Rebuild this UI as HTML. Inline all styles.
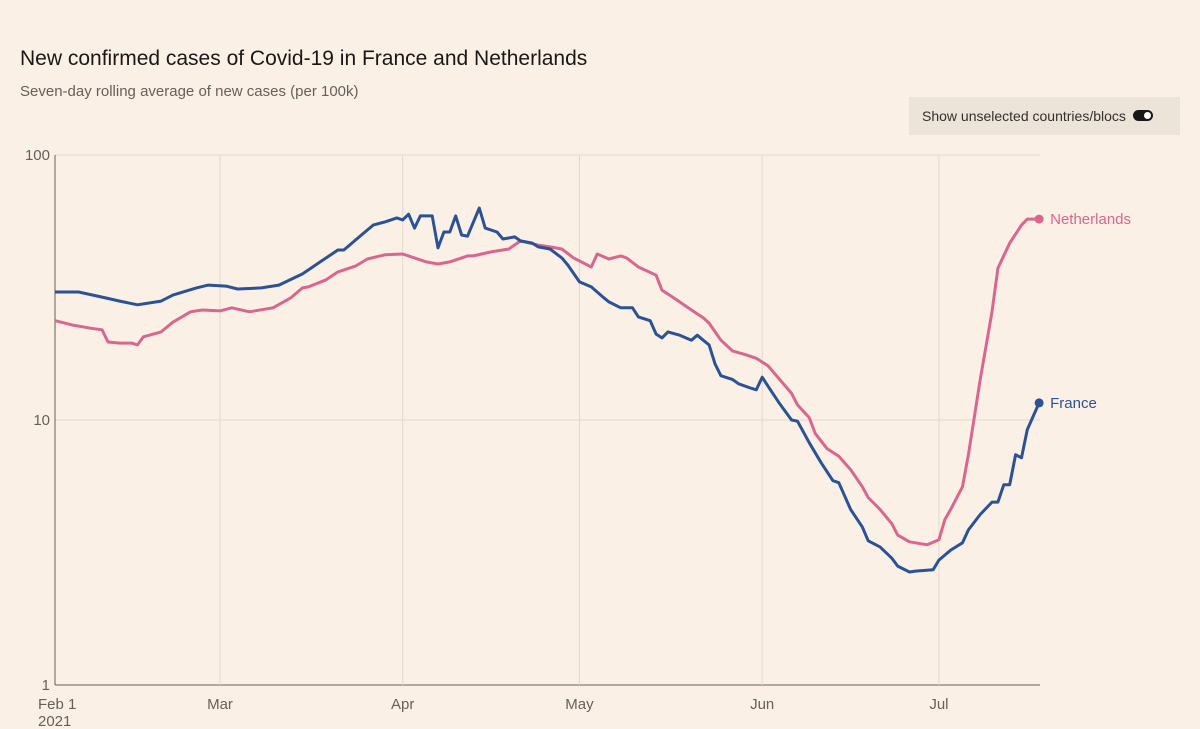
<!DOCTYPE html>
<html><head><meta charset="utf-8"><style>
body{margin:0;width:1200px;height:729px;background:#fbf0e6;font-family:"Liberation Sans",sans-serif;overflow:hidden;position:relative}
.t{position:absolute;left:20px;top:47px;font-size:21px;color:#1a1817}
.s{position:absolute;left:20px;top:83px;font-size:15px;color:#66605a}
.tg{position:absolute;left:909px;top:97px;width:271px;height:38px;background:#ece3d9;font-size:14px;color:#33302e;line-height:38px;padding-left:13px;box-sizing:border-box}
.sw{position:absolute;left:224px;top:13px;width:20px;height:11px;border-radius:6px;background:#1a1817}
.sw:after{content:"";position:absolute;right:2px;top:2px;width:7px;height:7px;border-radius:50%;background:#fff}
svg{position:absolute;left:0;top:0}
</style></head><body>
<div class="t">New confirmed cases of Covid-19 in France and Netherlands</div>
<div class="s">Seven-day rolling average of new cases (per 100k)</div>
<div class="tg">Show unselected countries/blocs<div class="sw"></div></div>
<svg id="c" width="1200" height="729"></svg>
<script>
const monthDays=[0,28,59,89,120,150];
const monthLabels=["Feb 1","Mar","Apr","May","Jun","Jul"];
const yTicks=[1,10,100];
const franceDays=[0,4,8,11,14,18,20,24,26,29,31,35,38,42,45,48,49,50,52,54,56,58,59,60,61,62,64,65,66,67,68,69,70,72,73,75,76,78,79,81,82,84,86,87,89,91,93,94,96,98,99,101,102,103,104,106,108,109,110,111,112,113,115,116,118,119,120,121,123,125,126,128,130,132,133,135,137,138,140,142,143,145,146,149,150,152,154,155,157,159,160,161,162,163,164,165,167];
const franceVals=[30.4,30.4,29.1,28.1,27.2,28.1,29.6,31.5,32.3,32.0,31.2,31.5,32.3,35.6,39.5,43.8,43.8,45.7,49.9,54.4,55.9,57.9,56.9,59.8,53.0,58.9,58.9,44.6,51.2,51.2,58.9,49.9,49.4,63.1,53.0,51.2,48.2,49.1,47.4,46.5,45.0,44.2,40.9,38.5,33.2,31.8,29.1,27.9,26.5,26.5,24.5,23.7,21.1,20.4,21.5,20.9,20.0,20.9,20.0,19.2,16.3,14.7,14.2,13.7,13.2,13.0,14.5,13.4,11.5,10.0,9.9,8.2,6.9,5.9,5.8,4.6,3.95,3.5,3.32,3.01,2.81,2.67,2.69,2.72,2.96,3.23,3.44,3.85,4.4,4.9,4.9,5.7,5.7,7.4,7.2,9.2,11.6];
const nlDays=[0,3,6,8,9,11,13,14,15,18,20,23,25,28,30,33,37,40,42,43,46,48,51,53,56,59,60,63,65,67,70,71,74,77,79,82,84,86,88,91,92,94,96,97,99,102,103,105,108,110,111,113,115,117,119,121,123,125,126,128,129,131,133,135,137,138,140,142,143,145,147,148,150,151,152,154,155,157,159,160,162,164,165,167];
const nlVals=[23.7,22.8,22.2,21.9,19.7,19.5,19.5,19.2,20.6,21.5,23.4,25.6,26.0,25.8,26.5,25.6,26.5,28.9,31.5,31.8,33.8,36.2,38.1,40.5,42.0,42.3,41.6,39.5,38.8,39.5,41.6,41.6,43.1,44.2,47.4,45.7,45.0,44.2,40.9,37.8,42.3,40.5,41.6,40.9,37.8,35.2,30.9,28.9,26.0,24.3,23.2,20.0,18.2,17.7,17.1,16.0,14.2,12.6,11.4,10.2,8.9,7.8,7.3,6.5,5.6,5.1,4.6,4.06,3.68,3.47,3.41,3.38,3.53,4.2,4.6,5.6,7.4,14.2,25.6,37.4,46.5,54.4,57.3,57.3];
const NS="http://www.w3.org/2000/svg",svg=document.getElementById('c');
const x=d=>55+d*5.893, y=v=>685-Math.log10(v)*265;
function mk(t,a){const e=document.createElementNS(NS,t);for(const k in a)e.setAttribute(k,a[k]);svg.appendChild(e);return e;}
yTicks.forEach(v=>{
 const l=mk('line',{x1:55,x2:1040,y1:y(v),y2:y(v),stroke:v===1?'#66605a':'#e2d8cd','stroke-width':1});
 
 
 const t=mk('text',{x:50,y:y(v)+5,'text-anchor':'end','font-size':15,fill:'#66605a'});t.textContent=v;
 
 
});
monthDays.forEach((d,i)=>{
 const l=mk('line',{x1:x(d),x2:x(d),y1:155,y2:685,stroke:i===0?'#66605a':'#e2d8cd','stroke-width':1});
 
 
 const t=mk('text',{x:x(d)+(i===0?-17:0),y:709,'text-anchor':i===0?'start':'middle','font-size':15,fill:'#66605a'});t.textContent=monthLabels[i];
 
 
});
const yr=mk('text',{x:38,y:726,'font-size':15,fill:'#66605a'});yr.textContent='2021';


function series(days,vals,col,name,label){
 const p=mk('path',{d:days.map((d,i)=>(i?'L':'M')+x(d).toFixed(1)+','+y(vals[i]).toFixed(1)).join(''),fill:'none',stroke:col,'stroke-width':3,'stroke-linejoin':'round'});
 
 
 const n=days.length-1;
 const c=mk('circle',{cx:x(days[n]),cy:y(vals[n]),r:4.5,fill:col});
 
 
 const t=mk('text',{x:x(days[n])+11,y:y(vals[n])+5,'font-size':15,fill:col});t.textContent=label;
 
 
}
series(nlDays,nlVals,'#d9668f','netherlands','Netherlands');
series(franceDays,franceVals,'#2a5294','france','France');
</script>
</body></html>
